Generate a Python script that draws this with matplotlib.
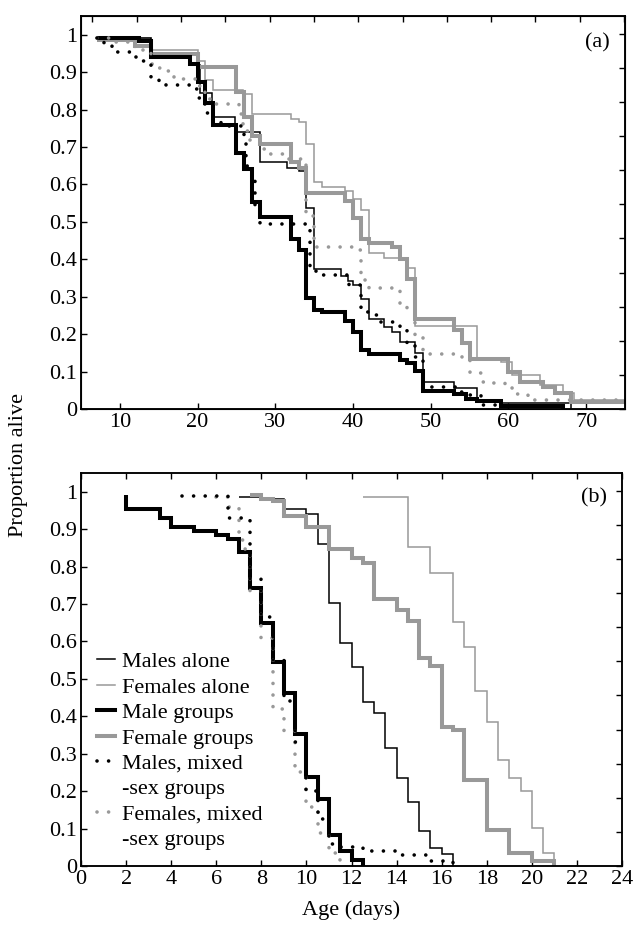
import matplotlib
matplotlib.use("Agg")
import matplotlib.pyplot as plt
from matplotlib.lines import Line2D
import numpy as np

plt.rcParams["font.family"] = ["Liberation Serif", "DejaVu Serif"]
plt.rcParams["font.size"] = 16

# ---- panel (a): survival, step times (days) and proportion alive after each step
a_ma_t = [7, 14, 19.2, 20.3, 21.8, 24.8, 28, 31.5, 33, 34, 35, 38.5, 39.3, 40, 41, 42, 44, 45, 46, 48, 49, 53, 56, 59, 68]
a_ma_s = [0.991, 0.94, 0.92, 0.843, 0.78, 0.739, 0.659, 0.645, 0.635, 0.538, 0.373, 0.355, 0.341, 0.33, 0.295,
          0.24, 0.22, 0.205, 0.18, 0.15, 0.072, 0.055, 0.025, 0.017, 0.0]

a_fa_t = [7, 14, 20, 21, 22, 25.8, 27, 32, 33, 34, 35, 36, 39, 40, 41, 42, 44, 46.9, 48, 56, 59, 60.5, 64, 67, 68.4, 75]
a_fa_s = [0.99, 0.958, 0.931, 0.88, 0.851, 0.842, 0.788, 0.775, 0.768, 0.708, 0.607, 0.592, 0.583, 0.56, 0.533,
          0.417, 0.404, 0.377, 0.222, 0.13, 0.125, 0.09, 0.064, 0.044, 0.024, 0.024]

a_mg_t = [7, 12.5, 14, 19, 20, 21, 22, 25, 26, 27, 28, 32, 33, 34, 35, 36, 39, 40, 41, 42, 46, 47, 48, 49, 53, 54.5,
          56, 59, 67]
a_mg_s = [0.99, 0.983, 0.94, 0.922, 0.873, 0.818, 0.759, 0.684, 0.641, 0.553, 0.514, 0.453, 0.424, 0.297, 0.265,
          0.258, 0.234, 0.205, 0.158, 0.147, 0.131, 0.122, 0.102, 0.048, 0.04, 0.028, 0.022, 0.008, 0.0]

a_fg_t = [7, 12, 14, 20, 25, 26, 27, 28, 32, 33, 34, 39, 40, 41, 42, 45, 46, 47, 48, 53, 54, 55, 60, 61.5, 64.5, 66,
          68, 75]
a_fg_s = [0.985, 0.971, 0.949, 0.913, 0.846, 0.779, 0.73, 0.708, 0.659, 0.645, 0.578, 0.556, 0.51, 0.455, 0.444,
          0.433, 0.4, 0.346, 0.24, 0.212, 0.176, 0.133, 0.1, 0.073, 0.058, 0.042, 0.02, 0.02]

a_mm_t = [7, 8, 9, 12, 13, 14, 15, 16, 19.5, 20, 20.5, 21, 22, 23, 24, 26, 26.2, 27, 27.4, 28, 34.5, 35.2, 39.5, 41,
          42, 43.5, 46, 47, 48, 49, 53.5, 55, 56.5, 59, 67]
a_mm_s = [0.99, 0.975, 0.955, 0.94, 0.93, 0.885, 0.875, 0.866, 0.855, 0.83, 0.815, 0.79, 0.775, 0.765, 0.755, 0.712,
          0.65, 0.61, 0.53, 0.493, 0.381, 0.357, 0.33, 0.26, 0.25, 0.232, 0.216, 0.172, 0.14, 0.06, 0.046, 0.038,
          0.012, 0.008, 0.0]

a_fm_t = [7, 9, 12, 14, 15, 16, 17, 18, 20, 21, 22, 25.3, 25.8, 26.5, 28, 29, 31, 34, 35, 40, 41, 42, 46, 47, 48, 49,
          54, 55, 56.5, 58, 59.5, 61, 62.5, 75]
a_fm_s = [0.99, 0.98, 0.96, 0.922, 0.911, 0.902, 0.888, 0.882, 0.862, 0.828, 0.815, 0.788, 0.743, 0.72, 0.694, 0.681,
          0.669, 0.516, 0.432, 0.424, 0.345, 0.322, 0.274, 0.264, 0.196, 0.147, 0.131, 0.097, 0.073, 0.069, 0.055,
          0.04, 0.024, 0.024]

# ---- panel (b)
b_ma_t = [7, 8, 9, 10, 10.5, 11, 11.5, 12, 12.5, 13, 13.5, 14, 14.5, 15, 15.5, 16, 16.5]
b_ma_s = [0.987, 0.98, 0.953, 0.94, 0.859, 0.704, 0.596, 0.532, 0.438, 0.41, 0.314, 0.235, 0.171, 0.094, 0.048,
          0.033, 0.0]

b_fa_t = [12.5, 14.5, 15.5, 16.5, 17, 17.5, 18, 18.5, 19, 19.5, 20, 20.5, 21]
b_fa_s = [0.985, 0.851, 0.784, 0.651, 0.584, 0.468, 0.385, 0.284, 0.234, 0.2, 0.102, 0.035, 0.0]

b_mg_t = [2, 2, 3.5, 4, 5, 6, 6.5, 7, 7.5, 8, 8.5, 9, 9.5, 10, 10.5, 11, 11.5, 12, 12.5]
b_mg_s = [0.99, 0.955, 0.93, 0.906, 0.896, 0.884, 0.873, 0.84, 0.743, 0.65, 0.544, 0.461, 0.353, 0.239, 0.178,
          0.084, 0.04, 0.015, 0.0]

b_fg_t = [7.5, 8, 8.5, 9, 10, 11, 12, 12.5, 13, 14, 14.5, 15, 15.5, 16, 16.5, 17, 18, 19, 20, 21]
b_fg_s = [0.991, 0.981, 0.975, 0.935, 0.906, 0.847, 0.823, 0.81, 0.714, 0.683, 0.654, 0.557, 0.535, 0.372, 0.363,
          0.231, 0.095, 0.036, 0.013, 0.0]

b_mm_t = [4.5, 6.5, 7.5, 8, 8.5, 9, 9.5, 10, 10.5, 11, 11.5, 12.5, 14, 15.5, 16.5]
b_mm_s = [0.989, 0.93, 0.766, 0.664, 0.55, 0.44, 0.33, 0.2, 0.125, 0.06, 0.051, 0.039, 0.029, 0.013, 0.0]

b_fm_t = [6, 6.5, 7, 7.25, 7.5, 8, 8.5, 9, 9.5, 10, 10.5, 11, 11.5]
b_fm_s = [0.985, 0.96, 0.87, 0.846, 0.735, 0.61, 0.42, 0.36, 0.25, 0.158, 0.087, 0.035, 0.0]

legend_labels = ["Males alone", "Females alone", "Male groups", "Female groups",
                 "Males, mixed", "-sex groups", "Females, mixed", "-sex groups"]

y_ticks = [0, 0.1, 0.2, 0.3, 0.4, 0.5, 0.6, 0.7, 0.8, 0.9, 1]
a_x_ticks = [10, 20, 30, 40, 50, 60, 70]
b_x_ticks = [0, 2, 4, 6, 8, 10, 12, 14, 16, 18, 20, 22, 24]

BLACK = "#000000"
GREY = "#999999"
DOT = (0, (0.01, 3.2))

STYLES = {
    "ma": dict(color=BLACK, lw=1.1),
    "fa": dict(color=GREY, lw=1.1),
    "mg": dict(color=BLACK, lw=2.9),
    "fg": dict(color=GREY, lw=2.9),
    "mm": dict(color=BLACK, lw=2.6, ls=DOT, dash_capstyle="round"),
    "fm": dict(color=GREY, lw=2.6, ls=DOT, dash_capstyle="round"),
}
ORDER = ["ma", "fa", "mg", "fg", "mm", "fm"]


def draw_panel(ax, series):
    for key in ["fa", "ma", "fg", "mg", "fm", "mm"]:
        t, s = series[key]
        ax.step(t, s, where="post", solid_joinstyle="miter", solid_capstyle="butt", **STYLES[key])


def style_axes(ax, xlim, xticks):
    ax.set_xlim(*xlim)
    ax.set_ylim(0, 1.05)
    ax.set_xticks(xticks)
    ax.set_yticks(y_ticks)
    ax.set_yticklabels([f"{v:g}" for v in y_ticks])
    ax.tick_params(direction="in", length=4.5, width=1.0, pad=3)
    for sp in ax.spines.values():
        sp.set_linewidth(1.1)
    # right-hand ticks sit on their own, slightly tighter spacing
    tw = ax.twinx()
    tw.set_ylim(0, 1.152)
    tw.set_yticks(np.arange(12) * 0.1)
    tw.tick_params(direction="in", length=4.5, width=1.0, labelright=False)
    for sp in tw.spines.values():
        sp.set_linewidth(1.1)
    return tw


fig = plt.figure(figsize=(6.33, 9.27), dpi=100)
ax_a = fig.add_axes([81 / 633, 1 - 409 / 927, 544 / 633, 393 / 927])
ax_b = fig.add_axes([81 / 633, 1 - 866 / 927, 541 / 633, 393 / 927])

draw_panel(ax_a, {"ma": (a_ma_t, a_ma_s), "fa": (a_fa_t, a_fa_s), "mg": (a_mg_t, a_mg_s),
                  "fg": (a_fg_t, a_fg_s), "mm": (a_mm_t, a_mm_s), "fm": (a_fm_t, a_fm_s)})
draw_panel(ax_b, {"ma": (b_ma_t, b_ma_s), "fa": (b_fa_t, b_fa_s), "mg": (b_mg_t, b_mg_s),
                  "fg": (b_fg_t, b_fg_s), "mm": (b_mm_t, b_mm_s), "fm": (b_fm_t, b_fm_s)})

style_axes(ax_a, (5, 75), a_x_ticks)
style_axes(ax_b, (0, 24), b_x_ticks)
ax_b.tick_params(top=True)

# top ticks of panel (a) follow a separate scale
top_a = ax_a.twiny()
top_a.set_xlim(-0.255, 12.02)
top_a.set_xticks(np.arange(13))
top_a.tick_params(direction="in", length=4.5, width=1.0, labeltop=False)

ax_a.text(0.972, 0.931, "(a)", transform=ax_a.transAxes, ha="right", va="center")
ax_b.text(0.972, 0.936, "(b)", transform=ax_b.transAxes, ha="right", va="center")

ax_b.set_xlabel("Age (days)", labelpad=8)
fig.text(0.03, 1 - 465 / 927, "Proportion alive", rotation=90, ha="center", va="center")

handles = []
for key in ORDER:
    handles.append(Line2D([], [], **STYLES[key]))
    if key in ("mm", "fm"):
        handles.append(Line2D([], [], color="none"))
ax_b.legend(handles, legend_labels, loc="lower left", bbox_to_anchor=(0.03, 0.04), frameon=False,
            handlelength=0.8, handletextpad=0.3, labelspacing=0.22, borderaxespad=0, borderpad=0)

fig.savefig("out.png", dpi=100)
